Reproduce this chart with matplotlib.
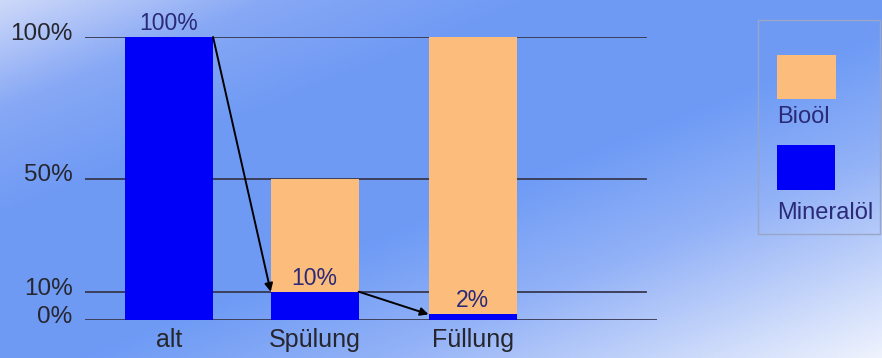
import numpy as np
import matplotlib
matplotlib.use('Agg')
import matplotlib.pyplot as plt
from matplotlib.colors import LinearSegmentedColormap
from matplotlib.patches import Rectangle
from matplotlib.transforms import ScaledTranslation

# Anteile Mineralöl / Bioöl in %
kategorien = ['alt', 'Spülung', 'Füllung']
mineraloel = [100, 10, 2]
biooel = [0, 40, 98]
wert_labels = ['100%', '10%', '2%']
y_ticks = [0, 10, 50, 100]
y_tick_labels = ['0%', '10%', '50%', '100%']

plt.rcParams['font.family'] = ['Liberation Sans', 'DejaVu Sans']

blau = '#0000f8'
orange = '#fcbc7c'
navy = '#2a2a78'
linie = '#363850'
schrift = '#26262e'

fig = plt.figure(figsize=(8.82, 3.58), dpi=100)

# Hintergrund-Verlauf
bg = fig.add_axes([0, 0, 1, 1], zorder=-10)
xx, yy = np.meshgrid(np.linspace(0, 1, 300), np.linspace(0, 1, 150))
s = xx + yy
cmap = LinearSegmentedColormap.from_list('bg', [
    (0.0, '#cdd8f9'), (0.15, '#87a8f5'), (0.3, '#6f9af4'),
    (0.55, '#6e9bf5'), (0.72, '#93b2f7'), (1.0, '#eef2fd')])
bg.imshow(s, cmap=cmap, vmin=0, vmax=2, aspect='auto', extent=[0, 1, 0, 1], origin='upper')
bg.axis('off')

ax = fig.add_axes([85 / 882, 38 / 358, 572 / 882, 283 / 358])
ax.patch.set_alpha(0)
for sp in ax.spines.values():
    sp.set_visible(False)

pos = np.array([0, 0.96, 2])
breite = 0.58

# Gitterlinien
for yv in y_ticks:
    ax.axhline(yv, xmin=0, xmax=1.0 if yv == 0 else 0.981, color=linie, lw=1.3, zorder=1)

ax.bar(pos, mineraloel, breite, color=blau, zorder=2)
ax.bar(pos, biooel, breite, bottom=mineraloel, color=orange, zorder=2)

for x, m, t in zip(pos, mineraloel, wert_labels):
    ax.annotate(t, (x, m), xytext=(0, 1.5), textcoords='offset points',
                ha='center', va='bottom', fontsize=16.5, color=navy, zorder=4)

# Pfeile zwischen den Mineralöl-Anteilen
for i in range(len(pos) - 1):
    ax.annotate('', xy=(pos[i + 1] - breite / 2, mineraloel[i + 1]),
                xytext=(pos[i] + breite / 2, mineraloel[i]),
                arrowprops=dict(arrowstyle='-|>', color='black', lw=1.4,
                                mutation_scale=12, shrinkA=0, shrinkB=0),
                zorder=5)

ax.set_xlim(-0.554, 3.216)
ax.set_ylim(0, 100)
ax.set_xticks(pos)
ax.set_xticklabels(kategorien, fontsize=18, color=schrift)
ax.set_yticks(y_ticks)
ax.set_yticklabels(y_tick_labels, fontsize=17.5, color=schrift)
ax.tick_params(axis='both', length=0)
ax.tick_params(axis='x', pad=6)
ax.tick_params(axis='y', pad=9)
for lab in ax.get_yticklabels():
    lab.set_transform(lab.get_transform() + ScaledTranslation(0, 4 / 72, fig.dpi_scale_trans))

# Legende
lg = fig.add_axes([0, 0, 1, 1], zorder=3)
lg.set_xlim(0, 882)
lg.set_ylim(358, 0)
lg.axis('off')
lg.add_patch(Rectangle((758, 20), 122, 214, fill=False, edgecolor='#9aa6c8', lw=1.0))
lg.add_patch(Rectangle((777, 55), 59, 44, color=orange, lw=0))
lg.add_patch(Rectangle((777, 145), 58, 45, color=blau, lw=0))
lg.text(777, 123, 'Bioöl', fontsize=17, color=navy, va='baseline', ha='left')
lg.text(777, 219, 'Mineralöl', fontsize=17, color=navy, va='baseline', ha='left')

fig.savefig('out.png', dpi=100)
